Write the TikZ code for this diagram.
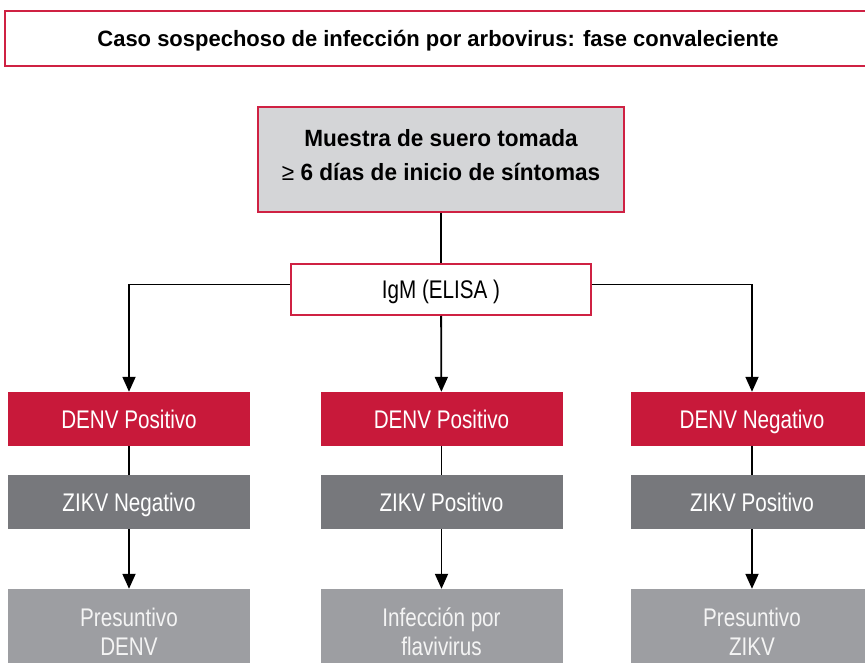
\documentclass[tikz,border=0pt]{standalone}
\usepackage{fontspec}
\setmainfont{Liberation Sans}[FakeStretch=0.81]
\newfontfamily\boldcond{Liberation Sans}[FakeStretch=0.96]
\newfontfamily\titlecond{Liberation Sans}[FakeStretch=0.99]
\usetikzlibrary{arrows.meta}
\definecolor{ared}{HTML}{C8193A}
\definecolor{aborder}{HTML}{CF2143}
\definecolor{alight}{HTML}{D4D5D7}
\definecolor{adark}{HTML}{77787C}
\definecolor{amid}{HTML}{9D9EA2}
\definecolor{apale}{HTML}{F4F4F4}
\tikzset{
  base/.style={rectangle, inner sep=0pt, align=center, font=\fontsize{25.5}{29}\selectfont, text height=18pt, text depth=0pt},
  titlebox/.style={base, draw=aborder, line width=2pt, fill=white, font=\titlecond\bfseries\fontsize{22.2}{28}\selectfont, text height=15.8pt},
  samplebox/.style={base, draw=aborder, line width=2pt, fill=alight, font=\boldcond\bfseries\fontsize{23.5}{34}\selectfont, text height=50.7pt, text depth=8pt},
  igmbox/.style={base, draw=aborder, line width=2pt, fill=white},
  denvbox/.style={base, fill=ared, text=white, minimum width=242pt, minimum height=54pt},
  zikvbox/.style={base, fill=adark, text=white, minimum width=242pt, minimum height=54pt},
  resbox/.style={base, fill=amid, text=apale, minimum width=242pt, minimum height=85pt, text height=47pt, text depth=0pt},
  conn/.style={line width=1.8pt, draw=black},
  arr/.style={conn, -{Triangle[length=15pt,width=13pt]}}
}
\begin{document}
\begin{tikzpicture}[x=1pt,y=-1pt]
\useasboundingbox (0,0) rectangle (865,663);
\node[titlebox, minimum width=866pt, minimum height=55pt] (title) at (438,38.5) {Caso sospechoso de infección por arbovirus: fase convaleciente};
\node[samplebox, minimum width=366pt, minimum height=105pt] (sample) at (441,159.5) {Muestra de suero tomada\\{\mdseries ≥} 6 días de inicio de síntomas};
\node[igmbox, minimum width=300pt, minimum height=51pt] (igm) at (441,289.5) {IgM (ELISA )};
\node[denvbox] (d1) at (129,419) {DENV Positivo};
\node[denvbox] (d2) at (441.5,419) {DENV Positivo};
\node[denvbox] (d3) at (752,419) {DENV Negativo};
\node[zikvbox] (z1) at (129,502) {ZIKV Negativo};
\node[zikvbox] (z2) at (441.5,502) {ZIKV Positivo};
\node[zikvbox] (z3) at (752,502) {ZIKV Positivo};
\node[resbox] (p1) at (129,631.5) {Presuntivo\\DENV};
\node[resbox] (p2) at (441.5,631.5) {Infección por\\flavivirus};
\node[resbox] (p3) at (752,631.5) {Presuntivo\\ZIKV};
\draw[conn] (sample) -- (igm);
\draw[arr] ([yshift=5pt]igm.west) -| (d1);
\draw[arr] (igm) -- (d2);
\draw[arr] ([yshift=5pt]igm.east) -| (d3);
\draw[conn] (d1) -- (z1);
\draw[conn] (d2) -- (z2);
\draw[conn] (d3) -- (z3);
\draw[arr] (z1) -- (p1);
\draw[arr] (z2) -- (p2);
\draw[arr] (z3) -- (p3);
\end{tikzpicture}
\end{document}
